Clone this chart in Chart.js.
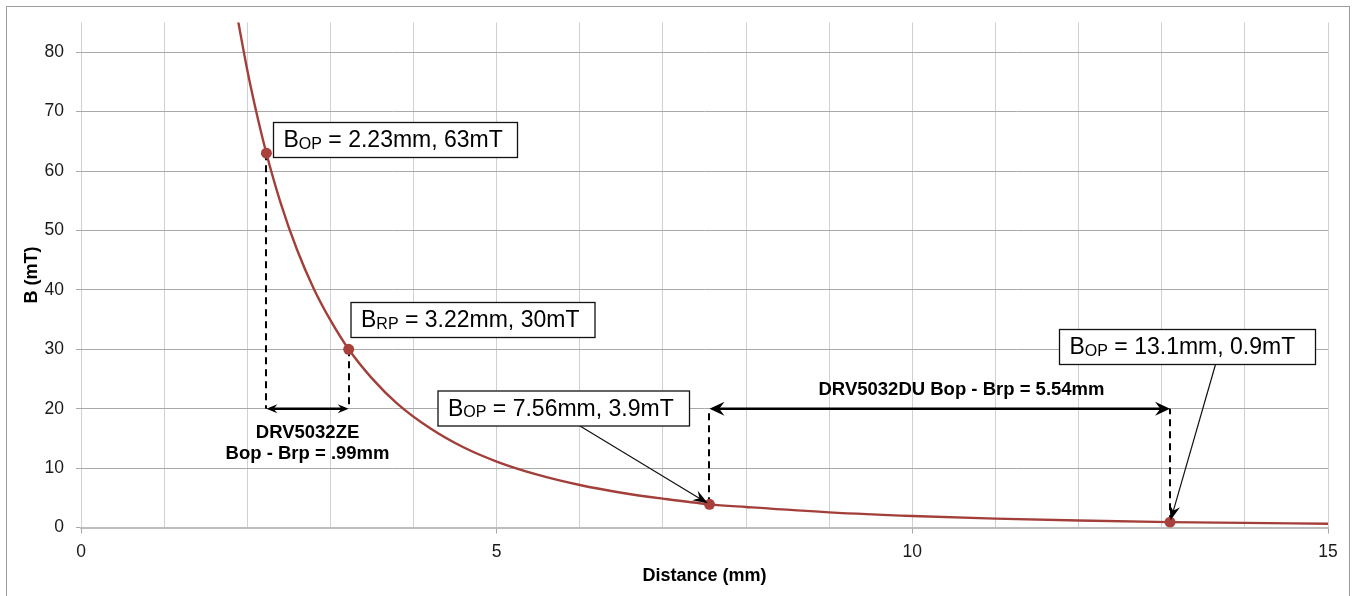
<!DOCTYPE html>
<html>
<head>
<meta charset="utf-8">
<script src="https://cdn.jsdelivr.net/npm/chart.js@4.4.1/dist/chart.umd.min.js"></script>
<style>
  html, body { margin: 0; padding: 0; background: #fff; }
</style>
</head>
<body>
<canvas id="fieldChart" width="1352" height="596"></canvas>
<script>
// B field vs distance
const distance = [1.88, 2.0, 2.1, 2.23, 2.4, 2.6, 2.8, 3.0, 3.22, 3.5, 3.8, 4.2, 4.6, 5, 5.5, 6, 6.5, 7, 7.56, 8, 9, 10, 11, 12, 13.1, 14, 15];
const field = [86, 77, 70.5, 63, 54.7, 46.7, 40.2, 34.9, 30, 25.1, 20.9, 16.7, 13.5, 11.1, 8.85, 7.15, 5.85, 4.85, 3.9, 3.45, 2.55, 1.93, 1.5, 1.18, 0.9, 0.78, 0.64];

// operate / release points that are marked on the curve
const markerDistance = [2.23, 3.22, 7.56, 13.1];
const markerField = [63, 30, 3.9, 0.9];
const markerNames = ['OP', 'RP', 'OP', 'OP'];
const markerLabels = [' = 2.23mm, 63mT', ' = 3.22mm, 30mT', ' = 7.56mm, 3.9mT', ' = 13.1mm, 0.9mT'];

const xLabelTicks = [0, 5, 10, 15];
const bracketField = 20;

const FONT = '"Liberation Sans", Arial, Helvetica, sans-serif';
const CURVE = '#a33f3a';

function arrowHead(ctx, tipX, tipY, fromX, fromY, len, half) {
    const a = Math.atan2(tipY - fromY, tipX - fromX);
    ctx.save();
    ctx.translate(tipX, tipY);
    ctx.rotate(a);
    ctx.beginPath();
    ctx.moveTo(0, 0);
    ctx.lineTo(-len, -half);
    ctx.lineTo(-len * 0.65, 0);
    ctx.lineTo(-len, half);
    ctx.closePath();
    ctx.fill();
    ctx.restore();
}

function doubleArrow(ctx, x1, x2, y, width, len, half) {
    ctx.lineWidth = width;
    ctx.beginPath();
    ctx.moveTo(x1 + len * 0.6, y);
    ctx.lineTo(x2 - len * 0.6, y);
    ctx.stroke();
    arrowHead(ctx, x1, y, x2, y, len, half);
    arrowHead(ctx, x2, y, x1, y, len, half);
}

const framePlugin = {
    id: 'frame',
    beforeDraw(chart) {
        const ctx = chart.ctx;
        ctx.save();
        ctx.fillStyle = '#fff';
        ctx.fillRect(0, 0, chart.width, chart.height);
        ctx.strokeStyle = '#9c9c9c';
        ctx.lineWidth = 1;
        ctx.strokeRect(6.5, 6.5, 1343, 640);
        ctx.restore();
    },
};

// dashed drop lines go under the curve, everything else on top
const annotations = {
    id: 'annotations',
    beforeDatasetsDraw(chart) {
        const { ctx, scales: { x, y } } = chart;
        const yb = y.getPixelForValue(bracketField);
        ctx.save();
        ctx.strokeStyle = '#000';
        ctx.lineWidth = 2;
        ctx.setLineDash([7, 5]);
        markerDistance.forEach((d, i) => {
            const px = Math.round(x.getPixelForValue(d));
            ctx.beginPath();
            ctx.moveTo(px, y.getPixelForValue(markerField[i]));
            ctx.lineTo(px, yb);
            ctx.stroke();
        });
        ctx.restore();
    },
    afterDatasetsDraw(chart) {
        const { ctx, scales: { x, y } } = chart;
        const yb = y.getPixelForValue(bracketField);
        const px = markerDistance.map((d) => x.getPixelForValue(d));
        const py = markerField.map((v) => y.getPixelForValue(v));
        ctx.save();
        ctx.fillStyle = '#000';
        ctx.strokeStyle = '#000';

        // brackets
        doubleArrow(ctx, px[0], px[1], yb, 2.5, 11, 4.5);
        doubleArrow(ctx, px[2], px[3], yb, 2.5, 15, 7);

        ctx.font = `bold 18.5px ${FONT}`;
        ctx.textAlign = 'center';
        ctx.textBaseline = 'middle';
        const mid = (px[0] + px[1]) / 2;
        ctx.fillText('DRV5032ZE', mid, yb + 24);
        ctx.fillText('Bop - Brp = .99mm', mid, yb + 45);
        ctx.fillText('DRV5032DU Bop - Brp = 5.54mm', 961.5, yb - 18.5);

        // callout boxes
        const boxes = [
            { left: 273.5, top: 122.5, w: 244 },
            { left: 351, top: 302.5, w: 244 },
            { left: 438, top: 391, w: 251.5, leader: 142 },
            { left: 1059.5, top: 329.5, w: 256, leader: 156 },
        ];
        boxes.forEach((b, i) => {
            const h = 35;
            if (b.leader) {
                const sx = b.left + b.leader;
                const sy = b.top + h;
                const ang = Math.atan2(py[i] - sy, px[i] - sx);
                const tx = px[i] - Math.cos(ang) * 2;
                const ty = py[i] - Math.sin(ang) * 2;
                ctx.lineWidth = 1.2;
                ctx.beginPath();
                ctx.moveTo(sx, sy);
                ctx.lineTo(tx - Math.cos(ang) * 8, ty - Math.sin(ang) * 8);
                ctx.stroke();
                arrowHead(ctx, tx, ty, sx, sy, 15, 5.5);
            }
            ctx.fillStyle = '#fff';
            ctx.fillRect(b.left, b.top, b.w, h);
            ctx.lineWidth = 1.3;
            ctx.strokeStyle = '#111';
            ctx.strokeRect(b.left, b.top, b.w, h);
            ctx.fillStyle = '#000';
            ctx.textAlign = 'left';
            ctx.textBaseline = 'alphabetic';
            let tx = b.left + 10;
            const base = b.top + 24.5;
            ctx.font = `23px ${FONT}`;
            ctx.fillText('B', tx, base);
            tx += ctx.measureText('B').width;
            ctx.font = `16px ${FONT}`;
            ctx.fillText(markerNames[i], tx, base + 1.5);
            tx += ctx.measureText(markerNames[i]).width;
            ctx.font = `23px ${FONT}`;
            ctx.fillText(markerLabels[i], tx, base);
        });
        ctx.restore();
    },
};

new Chart(document.getElementById('fieldChart'), {
    type: 'scatter',
    data: {
        datasets: [
            {
                label: 'B',
                data: distance.map((d, i) => ({ x: d, y: field[i] })),
                showLine: true,
                borderColor: CURVE,
                borderWidth: 2.4,
                pointRadius: 0,
                cubicInterpolationMode: 'monotone',
                order: 2,
            },
            {
                label: 'points',
                data: markerDistance.map((d, i) => ({ x: d, y: markerField[i] })),
                showLine: false,
                pointRadius: 5.5,
                pointBackgroundColor: '#a8403c',
                pointBorderWidth: 0,
                order: 1,
            },
        ],
    },
    options: {
        responsive: false,
        animation: false,
        devicePixelRatio: 1,
        layout: { padding: { top: 22, right: 24, left: 0, bottom: 0 } },
        plugins: { legend: { display: false }, tooltip: { enabled: false } },
        scales: {
            x: {
                type: 'linear',
                min: 0,
                max: 15,
                afterFit: (scale) => { scale.height = 68.5; },
                ticks: {
                    stepSize: 1,
                    autoSkip: false,
                    maxRotation: 0,
                    padding: 8,
                    color: '#1a1a1a',
                    font: { family: FONT, size: 17.5 },
                    callback: (v) => (xLabelTicks.includes(v) ? String(v) : ''),
                },
                grid: {
                    color: '#d0d0d0',
                    lineWidth: 1,
                    tickLength: 6,
                    tickColor: (c) => (c.tick && xLabelTicks.includes(c.tick.value) ? '#a8a8a8' : 'rgba(0,0,0,0)'),
                },
                border: { color: '#bdbdbd', width: 2 },
                title: {
                    display: true,
                    text: 'Distance (mm)',
                    color: '#000',
                    font: { family: FONT, size: 18, weight: 'bold' },
                    padding: { top: 0, bottom: 9 },
                },
            },
            y: {
                min: 0,
                max: 85,
                afterFit: (scale) => { scale.width = 81; },
                ticks: {
                    stepSize: 10,
                    includeBounds: false,
                    padding: 12,
                    color: '#1a1a1a',
                    font: { family: FONT, size: 17.5 },
                },
                grid: {
                    color: (c) => (c.tick && c.tick.value === 0 ? 'rgba(0,0,0,0)' : '#a9a9a9'),
                    lineWidth: 1,
                    tickLength: 5,
                    tickColor: '#a8a8a8',
                },
                border: { display: false },
                title: {
                    display: true,
                    text: 'B (mT)',
                    color: '#000',
                    font: { family: FONT, size: 18, weight: 'bold' },
                    padding: { top: 21, bottom: 0 },
                },
            },
        },
    },
    plugins: [framePlugin, annotations],
});
</script>
</body>
</html>
